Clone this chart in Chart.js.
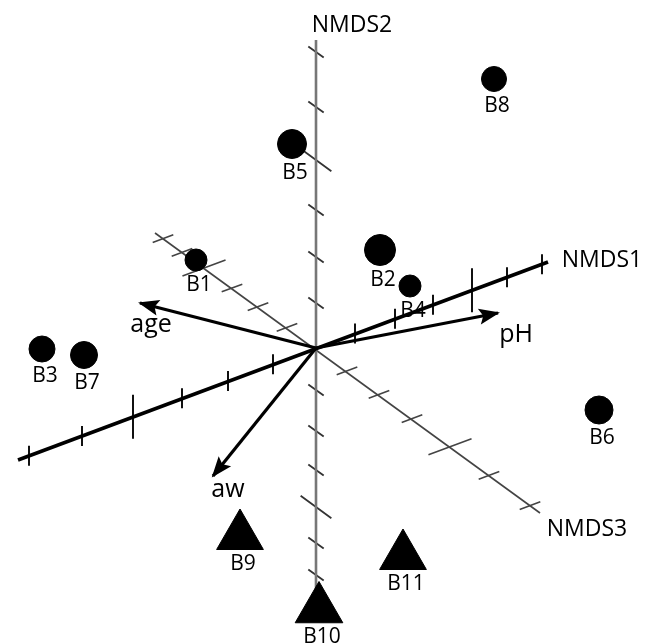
<!DOCTYPE html>
<html>
<head>
<meta charset="utf-8">
<script src="https://cdn.jsdelivr.net/npm/chart.js@4"></script>
<style>
  html, body { margin: 0; padding: 0; background: #fff; }
  #wrap { width: 657px; height: 644px; }
</style>
</head>
<body>
<div id="wrap"><canvas id="chart"></canvas></div>
<script>
// sample scores (axes cross at 0,0)
const samples = ['B1', 'B2', 'B3', 'B4', 'B5', 'B6', 'B7', 'B8', 'B9', 'B10', 'B11'];
const sampleX = [-1.20, 0.64, -2.74, 0.94, -0.24, 2.83, -2.32, 1.78, -0.76, 0.03, 0.87];
const sampleY = [0.88, 0.98, -0.01, 0.62, 2.04, -0.62, -0.07, 2.69, -1.88, -2.61, -2.08];
const sampleShape = ['circle', 'circle', 'circle', 'circle', 'circle', 'circle', 'circle', 'circle', 'triangle', 'triangle', 'triangle'];
const markerSize = [11, 15.5, 13, 11, 14.5, 14, 13.5, 12.5, 27, 27.5, 27];

// fitted environmental vectors
const variables = ['age', 'pH', 'aw'];
const varX = [-1.76, 1.82, -1.03];
const varY = [0.45, 0.35, -1.28];

// the three projected NMDS axes: both ends, and where the ticks sit
const nmds1Ends = [[-2.98, -1.12], [2.32, 0.86]];
const nmds1Ticks = [-2.87, -2.34, -1.83, -1.34, -0.88, -0.43, 0.39, 0.79, 1.17, 1.56, 1.91, 2.26]; // x
const nmds2Ends = [[0, -2.42], [0, 3.08]];
const nmds2Ticks = [-2.27, -1.95, -1.59, -1.22, -0.83, -0.42, 0.45, 0.91, 1.38, 1.88, 2.41, 2.96]; // y
const nmds3Ends = [[-1.61, 1.15], [2.24, -1.65]];
const nmds3Ticks = [-1.53, -1.34, -1.12, -0.84, -0.58, -0.29, 0.31, 0.63, 0.96, 1.34, 1.73, 2.14]; // x
const majorTick = [2, 9];

const FONT = '"Open Sans", "Liberation Sans", sans-serif';

function unit(v) {
    let l = Math.hypot(v[0], v[1]);
    return [v[0] / l, v[1] / l];
}

function onSlantedAxis(ends, x) {
    let e = x < 0 ? ends[0] : ends[1];
    return [x, x * e[1] / e[0]];
}

// each tick is a short segment; nulls break the line between them
function tickData(ticks, place, dir, minor, major) {
    let out = [];
    ticks.forEach((t, i) => {
        let p = place(t), half = (majorTick.includes(i) ? major : minor) / 2;
        out.push({x: p[0] - dir[0] * half, y: p[1] - dir[1] * half});
        out.push({x: p[0] + dir[0] * half, y: p[1] + dir[1] * half});
        out.push({x: null, y: null});
    });
    return out;
}

const dir1 = unit([nmds1Ends[1][0] - nmds1Ends[0][0], nmds1Ends[1][1] - nmds1Ends[0][1]]);
const dir3 = unit([nmds3Ends[1][0] - nmds3Ends[0][0], nmds3Ends[1][1] - nmds3Ends[0][1]]);

function lineSet(data, color, width, order) {
    return {
        type: 'line', data: data, borderColor: color, borderWidth: width,
        pointRadius: 0, fill: false, spanGaps: false, order: order,
        borderCapStyle: 'butt', tension: 0
    };
}

let datasets = [];

// markers on top
['circle', 'triangle'].forEach(shape => {
    let idx = samples.map((s, i) => i).filter(i => sampleShape[i] === shape);
    datasets.push({
        type: 'scatter',
        data: idx.map(i => ({x: sampleX[i], y: sampleY[i]})),
        pointStyle: shape,
        pointRadius: idx.map(i => markerSize[i]),
        backgroundColor: '#000', borderColor: '#000', borderWidth: 1,
        order: 0
    });
});

// vectors
variables.forEach((v, i) => {
    let ds = lineSet([{x: 0, y: 0}, {x: varX[i], y: varY[i]}], '#000', 3.2, 1);
    ds.arrow = true;
    datasets.push(ds);
});

// axes
datasets.push(lineSet(nmds1Ends.map(e => ({x: e[0], y: e[1]})), '#000', 3.5, 2));
datasets.push(lineSet(tickData(nmds1Ticks, t => onSlantedAxis(nmds1Ends, t), [0, 1], 0.2, 0.44), '#111', 2, 2));
datasets.push(lineSet(nmds2Ends.map(e => ({x: e[0], y: e[1]})), '#777', 2.6, 3));
datasets.push(lineSet(tickData(nmds2Ticks, t => [0, t], dir3, 0.19, 0.38), '#333', 1.8, 3));
datasets.push(lineSet(nmds3Ends.map(e => ({x: e[0], y: e[1]})), '#444', 1.6, 4));
datasets.push(lineSet(tickData(nmds3Ticks, t => onSlantedAxis(nmds3Ends, t), dir1, 0.22, 0.46), '#444', 1.6, 4));

// text positions (data units, baseline)
const axisTitles = [
    {text: 'NMDS2', x: 0.36, y: 3.16},
    {text: 'NMDS1', x: 2.86, y: 0.81},
    {text: 'NMDS3', x: 2.71, y: -1.88}
];
const varTitles = [
    {x: -1.65, y: 0.16},
    {x: 2.00, y: 0.06},
    {x: -0.88, y: -1.49}
];

const textPlugin = {
    id: 'texts',
    beforeDatasetsDraw(chart) {
        let ctx = chart.ctx, xs = chart.scales.x, ys = chart.scales.y;
        ctx.save();
        ctx.fillStyle = '#000';
        ctx.textAlign = 'center';
        ctx.textBaseline = 'alphabetic';
        ctx.font = '21px ' + FONT;
        samples.forEach((s, i) => {
            let px = xs.getPixelForValue(sampleX[i]), py = ys.getPixelForValue(sampleY[i]);
            let bottom = sampleShape[i] === 'triangle' ? markerSize[i] / 2 : markerSize[i];
            ctx.fillText(s, px + 3, py + bottom + 20);
        });
        ctx.font = '23px ' + FONT;
        axisTitles.forEach(t => ctx.fillText(t.text, xs.getPixelForValue(t.x), ys.getPixelForValue(t.y)));
        ctx.font = '25px ' + FONT;
        variables.forEach((v, i) => ctx.fillText(v, xs.getPixelForValue(varTitles[i].x), ys.getPixelForValue(varTitles[i].y)));
        ctx.restore();
    },
    afterDatasetsDraw(chart) {
        let ctx = chart.ctx;
        chart.data.datasets.forEach((ds, i) => {
            if (!ds.arrow) return;
            let pts = chart.getDatasetMeta(i).data;
            let a = pts[0], b = pts[1];
            let ang = Math.atan2(b.y - a.y, b.x - a.x), len = 19, w = 8;
            ctx.save();
            ctx.fillStyle = '#000';
            ctx.translate(b.x, b.y);
            ctx.rotate(ang);
            ctx.beginPath();
            ctx.moveTo(2, 0);
            ctx.lineTo(-len, -w);
            ctx.lineTo(-len + 4, 0);
            ctx.lineTo(-len, w);
            ctx.closePath();
            ctx.fill();
            ctx.restore();
        });
    }
};

new Chart(document.getElementById('chart'), {
    type: 'scatter',
    data: {datasets: datasets},
    options: {
        responsive: true,
        maintainAspectRatio: false,
        animation: false,
        layout: {padding: 0, autoPadding: false},
        scales: {
            x: {type: 'linear', min: -3.16, max: 3.41, display: false},
            y: {type: 'linear', min: -2.96, max: 3.48, display: false}
        },
        plugins: {legend: {display: false}, tooltip: {enabled: false}}
    },
    plugins: [textPlugin]
});
</script>
</body>
</html>
